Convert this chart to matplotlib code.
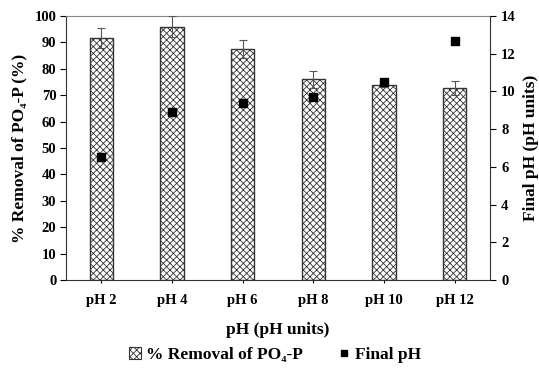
import matplotlib

matplotlib.use("Agg")

import matplotlib.pyplot as plt
import numpy as np
from matplotlib.lines import Line2D
from matplotlib.patches import Patch

categories = ["pH 2", "pH 4", "pH 6", "pH 8", "pH 10", "pH 12"]
removal = [91.5, 96.0, 87.5, 76.0, 74.0, 72.7]
removal_err = [3.8, 4.0, 3.5, 3.2, 1.0, 2.8]
final_ph = [6.5, 8.93, 9.37, 9.69, 10.5, 12.69]

plt.rcParams["font.family"] = ["Liberation Serif", "DejaVu Serif"]
plt.rcParams["font.weight"] = "bold"
plt.rcParams["hatch.color"] = "#555555"
plt.rcParams["hatch.linewidth"] = 0.6

fig = plt.figure(figsize=(5.39, 3.72), dpi=100)
ax = fig.add_axes([0.1224, 0.247, 0.7866, 0.71])
x = np.arange(len(categories))

ax.bar(x, removal, width=0.33, color="white", edgecolor="#333333", linewidth=1.0,
       hatch="xxxxx", zorder=2)
ax.errorbar(x, removal, yerr=removal_err, fmt="none", ecolor="#555555",
            elinewidth=0.8, capsize=3, capthick=0.8, zorder=3)
ax.set_xlim(-0.5, len(categories) - 0.5)
ax.set_ylim(0, 100)
ax.set_yticks(range(0, 101, 10))
ax.set_xticks(x)
ax.set_xticklabels(categories)
ax.set_ylabel("% Removal of PO\u2084-P (%)", fontsize=12.5, fontweight="bold", labelpad=5)
ax.set_xlabel("pH (pH units)", fontsize=12.5, fontweight="bold", labelpad=11)
ax.tick_params(axis="y", direction="out", length=4, labelsize=10.5, pad=3)
ax.tick_params(axis="x", direction="out", length=2, labelsize=10.5, pad=8)
for lbl in ax.get_xticklabels() + ax.get_yticklabels():
    lbl.set_fontweight("bold")
for s in ["left", "bottom"]:
    ax.spines[s].set_color("#333333")
ax.spines["top"].set_color("#888888")
ax.spines["right"].set_visible(False)

ax2 = ax.twinx()
ax2.scatter(x, final_ph, marker="s", s=28, color="black", zorder=4)
ax2.set_ylim(0, 14)
ax2.set_yticks(range(0, 15, 2))
ax2.set_ylabel("Final pH (pH units)", fontsize=12.5, fontweight="bold", labelpad=5)
ax2.tick_params(axis="y", direction="out", length=4, labelsize=10.5, pad=4)
for lbl in ax2.get_yticklabels():
    lbl.set_fontweight("bold")
for s in ["left", "top", "bottom"]:
    ax2.spines[s].set_visible(False)
ax2.spines["right"].set_color("#333333")

handles = [
    Patch(facecolor="white", edgecolor="#333333", hatch="xxxxx", linewidth=0.8),
    Line2D([], [], marker="s", linestyle="none", color="black", markersize=4),
]
fig.legend(handles, ["% Removal of PO\u2084-P", "Final pH"], loc="center",
           bbox_to_anchor=(0.51, 0.045), ncol=2, frameon=False,
           prop={"size": 12.5, "weight": "bold"}, handlelength=0.7, handleheight=0.7,
           handletextpad=0.3, columnspacing=2.0)

fig.savefig("out.png", dpi=100)
